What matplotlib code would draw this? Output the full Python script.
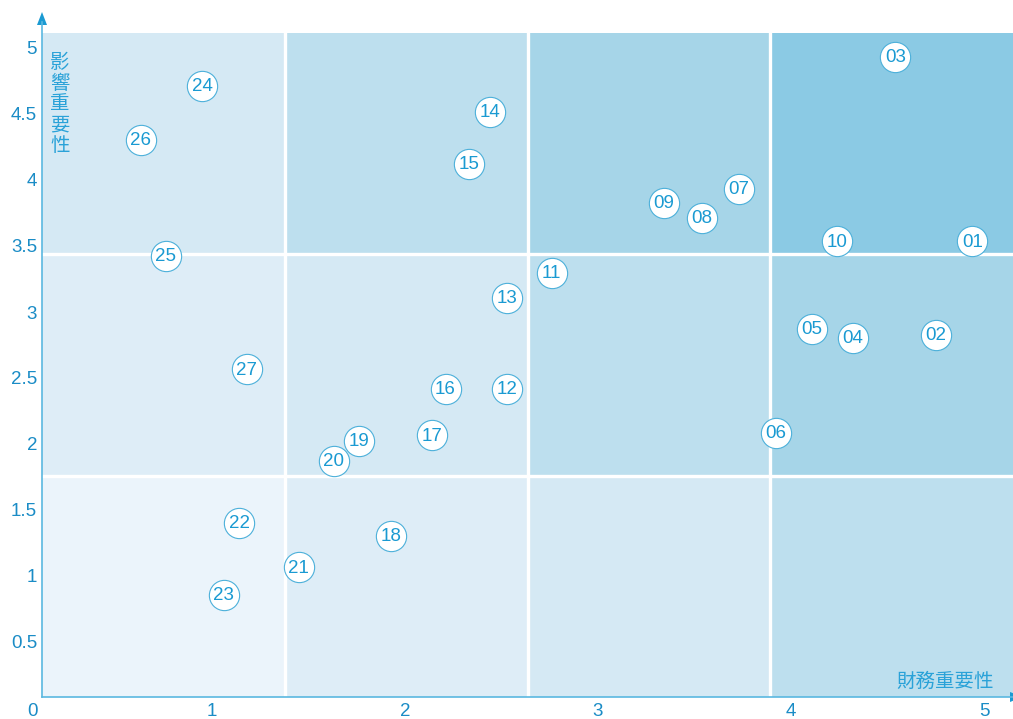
import matplotlib
matplotlib.use("Agg")
import matplotlib.pyplot as plt
from matplotlib.patches import Rectangle

labels = ["01", "02", "03", "04", "05", "06", "07", "08", "09", "10",
          "11", "12", "13", "14", "15", "16", "17", "18", "19", "20",
          "21", "22", "23", "24", "25", "26", "27"]
financial = [4.94, 4.75, 4.54, 4.32, 4.11, 3.92, 3.73, 3.54, 3.34, 4.24,
             2.76, 2.53, 2.53, 2.44, 2.33, 2.21, 2.14, 1.93, 1.76, 1.63,
             1.45, 1.14, 1.06, 0.95, 0.76, 0.63, 1.18]
impact = [3.55, 2.84, 4.95, 2.82, 2.89, 2.10, 3.95, 3.73, 3.84, 3.55,
          3.31, 2.43, 3.12, 4.53, 4.14, 2.43, 2.08, 1.32, 2.04, 1.89,
          1.08, 1.42, 0.87, 4.73, 3.44, 4.32, 2.58]
x_ticks = [1, 2, 3, 4, 5]
y_ticks = [0.5, 1, 1.5, 2, 2.5, 3, 3.5, 4, 4.5, 5]
y_tick_labels = ["0.5", "1", "1.5", "2", "2.5", "3", "3.5", "4", "4.5", "5"]
x_title = "財務重要性"
y_title = "影響重要性"

level_colors = ["#ebf4fb", "#deedf7", "#d5e9f4", "#bddfee", "#a6d5e8", "#8bcae4"]

W, H = 1013, 719
fig = plt.figure(figsize=(W / 100, H / 100), dpi=100)
left_px, right_px, bottom_px, top_px = 42, 1013, 697, 33
ax = fig.add_axes([left_px / W, 1 - bottom_px / H, (right_px - left_px) / W, (bottom_px - top_px) / H])

# data mapping: x=0 at px 19, 193 px/unit; y=0 at px 710, 132 px/unit
ax.set_xlim((left_px - 19) / 193, (right_px - 19) / 193)
ax.set_ylim((710 - bottom_px) / 132, (710 - top_px) / 132)

# background cells (4 columns x 3 rows)
for c in range(4):
    for r in range(3):
        ax.add_patch(Rectangle((c / 4, r / 3), 1 / 4, 1 / 3, transform=ax.transAxes,
                               facecolor=level_colors[c + r], edgecolor="none", zorder=0))
x0, x1 = ax.get_xlim()
y0, y1 = ax.get_ylim()
for fx in [0.25, 0.5, 0.75]:
    ax.axvline(x0 + fx * (x1 - x0), color="white", lw=2.4, zorder=1)
for fy in [1 / 3, 2 / 3]:
    ax.axhline(y0 + fy * (y1 - y0), color="white", lw=2.4, zorder=1)

# points
ax.scatter(financial, impact, s=(21.8) ** 2, facecolor="white", edgecolor="#4cb0da",
           linewidth=0.8, zorder=3)
for lab, x, y in zip(labels, financial, impact):
    ax.text(x, y - 0.005, lab, ha="center", va="center", fontsize=13.5, color="#1a9ad2",
            family="Liberation Sans", zorder=4)

for s in ax.spines.values():
    s.set_visible(False)
ax.set_xticks([])
ax.set_yticks([])

tick_color = "#1a8cc6"
axis_color = "#5ab8e0"
for t in x_ticks:
    fig.text((19 + 193 * t) / W, 1 - 712 / H, str(t), ha="center", va="center", fontsize=13.5,
             color=tick_color, family="Liberation Sans")
for t, tl in zip(y_ticks, y_tick_labels):
    fig.text(37 / W, 1 - (710 - 132 * t) / H, tl, ha="right", va="center", fontsize=13.5,
             color=tick_color, family="Liberation Sans")
fig.text(32 / W, 1 - 712 / H, "0", ha="center", va="center", fontsize=13.5,
         color=tick_color, family="Liberation Sans")

# axis lines with arrows
fig.add_artist(plt.Line2D([42 / W, 42 / W], [1 - 697 / H, 1 - 22 / H], color=axis_color, lw=1.2))
fig.add_artist(plt.Line2D([42 / W, 1013 / W], [1 - 697 / H, 1 - 697 / H], color=axis_color, lw=1.2))
fig.add_artist(plt.Polygon([[37 / W, 1 - 25 / H], [47 / W, 1 - 25 / H], [42 / W, 1 - 12 / H]],
                           closed=True, facecolor="#1a9ad2", edgecolor="none"))
fig.add_artist(plt.Polygon([[1010 / W, 1 - 692 / H], [1010 / W, 1 - 702 / H], [1023 / W, 1 - 697 / H]],
                           closed=True, facecolor="#1a9ad2", edgecolor="none"))

cjk = ["Noto Sans CJK TC", "DejaVu Sans"]
fig.text(60 / W, 1 - 104 / H, "\n".join(y_title), ha="center", va="center", fontsize=14,
         color="#2aa2d8", family=cjk, linespacing=0.98)
fig.text(994 / W, 1 - 681 / H, x_title, ha="right", va="center", fontsize=14,
         color="#2aa2d8", family=cjk)

fig.savefig("out.png", dpi=100)
